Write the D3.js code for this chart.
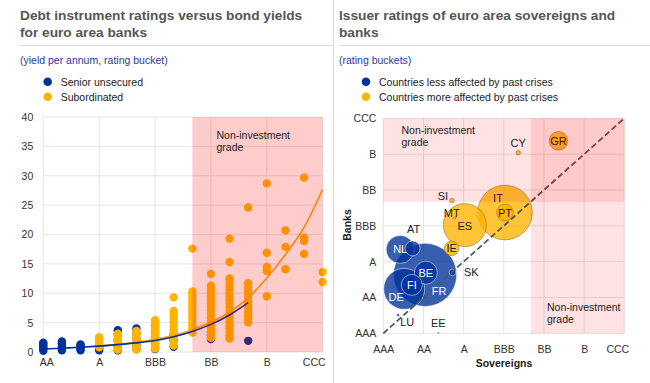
<!DOCTYPE html>
<html><head><meta charset="utf-8">
<script src="https://cdn.jsdelivr.net/npm/d3@7"></script>
<style>body{margin:0;background:#fff;}svg{display:block;font-family:"Liberation Sans",Arial,sans-serif}</style>
</head><body><svg id="c" width="650" height="383"></svg>
<script>
// ---------- LEFT CHART DATA ----------
const notches = ["AA","AA-","A+","A","A-","BBB+","BBB","BBB-","BB+","BB","BB-","B+","B","B-","CCC+","CCC"];
const leftTickLabels = ["AA","A","BBB","BB","B","CCC"];
const yieldTicks = [0,5,10,15,20,25,30,35,40];
const seniorRatings = ["AA","AA-","A+","A","A-","BBB+","BBB","BBB-","BB","B+"];
const seniorYields = [
  [0.2,0.5,0.8,1.1,1.4,1.6],
  [0.3,0.6,0.9,1.2,1.5,1.8],
  [0.3,0.5,0.8,1.1,1.3],
  [0.3,0.6,1.0],
  [0.3,1.0,2.0,3.0,3.7],
  [0.5,1.2,2.2,3.2,4.0],
  [0.5,1.5,2.5,3.5,4.4,4.7],
  [0.9,2.0,3.0],
  [2.2,2.8,3.4],
  [1.9]
];
const subRatings = ["A","A-","BBB+","BBB","BBB-","BB+","BB","BB-","B+","B","B-","CCC+","CCC"];
const subYields = [
  [0.8,1.2,1.6,2.0,2.5],
  [0.4,0.8,1.2,1.6,2.0,2.4,2.8,3.1],
  [0.4,0.8,1.2,1.6,2.0,2.4,2.8,3.2,3.6],
  [0.6,0.9,1.3,1.7,2.1,2.5,2.9,3.3,3.7,4.1,4.5,4.9,5.4],
  [1.1,1.6,2.1,2.6,3.1,3.6,4.1,4.6,5.1,5.6,6.1,6.6,7.0,9.3],
  [3.3,3.9,4.4,5.0,5.6,6.2,6.8,7.4,8.0,8.6,9.2,9.8,10.3,17.6],
  [2.4,2.9,3.5,4.1,4.7,5.3,5.9,6.5,7.1,7.7,8.3,8.9,9.5,10.1,10.7,11.3,13.3],
  [2.3,2.8,3.4,4.0,4.6,5.2,5.8,6.4,7.0,7.6,8.2,8.8,9.4,10.0,10.6,11.2,11.8,12.5,15.3,19.3],
  [5.0,5.6,6.2,6.8,7.4,8.0,8.6,9.2,9.8,10.4,11.0,11.7,24.6],
  [9.5,13.8,14.5,16.9,28.7],
  [14.1,17.9,20.7],
  [16.7,18.9,19.5,29.7],
  [11.9,13.6]
];
const seniorTrendRatings = ["AA","AA-","A+","A","A-","BBB+","BBB","BBB-","BB+","BB","BB-","B+"];
const seniorTrend = [0.5,0.65,0.8,1.0,1.25,1.55,1.95,2.6,3.5,4.7,6.3,8.4];
const subTrendRatings = ["A","A-","BBB+","BBB","BBB-","BB+","BB","BB-","B+","B","B-","CCC+","CCC"];
const subTrend = [1.0,1.3,1.65,2.15,2.85,3.8,5.1,6.8,9.2,12.6,16.6,21.2,27.7];
const nonInvestmentStart = "BB+";

// ---------- RIGHT CHART DATA ----------
const ratingLabels = ["AAA","AA","A","BBB","BB","B","CCC"];
const countries      = ["DE","FR","NL","BE","FI","AT","LU","EE","SK","IE","MT","SI","ES","IT","PT","CY","GR"];
const sovereignScore = [0.52,1.04,0.42,1.06,0.71,0.73,0.37,1.37,1.72,1.70,1.78,1.71,2.03,3.03,3.03,3.36,4.36];
const bankScore      = [1.24,1.63,2.34,1.69,1.35,2.37,0.51,0.01,1.70,2.37,3.22,3.70,3.02,3.37,3.37,5.04,5.37];
const bubbleSize     = [42,100,19.6,13.2,11,5.6,0.23,0.1,1.1,5.3,0.1,0.53,46.2,74.5,6.9,0.53,8.6];
const crisisGroup    = ["less","less","less","less","less","less","less","less","less","more","more","more","more","more","more","more","more"];
const nonInvestmentBoundary = 3.67;

// ---------- STYLE ----------
const BLUE = "#003299", YELLOW = "#FFB400";
const svg = d3.select("#c");

function title(x, lines){
  lines.forEach((t,i)=>svg.append("text").attr("x",x).attr("y",20+i*16.5)
    .attr("font-size",13.7).attr("font-weight","bold").attr("fill","#555").text(t));
}
title(20,["Debt instrument ratings versus bond yields","for euro area banks"]);
title(339,["Issuer ratings of euro area sovereigns and","banks"]);
svg.append("line").attr("x1",20).attr("x2",333).attr("y1",45.5).attr("y2",45.5).attr("stroke","#d9d9d9");
svg.append("line").attr("x1",339).attr("x2",650).attr("y1",45.5).attr("y2",45.5).attr("stroke","#d9d9d9");
svg.append("line").attr("x1",333.5).attr("x2",333.5).attr("y1",0).attr("y2",383).attr("stroke","#d9d9d9");
svg.append("text").attr("x",20).attr("y",63.5).attr("font-size",10.5).attr("fill","#1f3b99").text("(yield per annum, rating bucket)");
svg.append("text").attr("x",339).attr("y",63.5).attr("font-size",10.5).attr("fill","#1f3b99").text("(rating buckets)");
function legend(x, items){
  items.forEach((it,i)=>{
    svg.append("circle").attr("cx",x).attr("cy",81.7+i*15).attr("r",4.3).attr("fill",it[1]);
    svg.append("text").attr("x",x+13).attr("y",85.5+i*15).attr("font-size",10.5).attr("fill","#222").text(it[0]);
  });
}
legend(47.7,[["Senior unsecured",BLUE],["Subordinated",YELLOW]]);
legend(366,[["Countries less affected by past crises",BLUE],["Countries more affected by past crises",YELLOW]]);

// ---------- LEFT CHART ----------
const L = svg.append("g");
const xL = d3.scalePoint().domain(notches).range([43.3,322.7]);
const yL = d3.scaleLinear().domain([0,40]).range([352,117]);
L.selectAll(".hg").data(yieldTicks).join("line").attr("x1",43.3).attr("x2",322.7)
  .attr("y1",d=>yL(d)).attr("y2",d=>yL(d)).attr("stroke","#e6e6e6");
L.selectAll(".vg").data(leftTickLabels).join("line").attr("x1",d=>xL(d)).attr("x2",d=>xL(d))
  .attr("y1",yL(40)).attr("y2",yL(0)).attr("stroke","#e6e6e6");
const yAxL = L.append("g").attr("transform","translate(43.3,0)")
  .call(d3.axisLeft(yL).tickValues(yieldTicks).tickSize(0).tickPadding(10));
const xAxL = L.append("g").attr("transform","translate(0,352)")
  .call(d3.axisBottom(xL).tickValues(leftTickLabels).tickSize(0).tickPadding(7));
[yAxL,xAxL].forEach(a=>{a.select(".domain").remove();a.selectAll("text").attr("font-size",10.5).attr("fill","#333").attr("font-family","Liberation Sans, Arial");});
xAxL.selectAll("text").attr("dx",d=>d==="AA"?3:d==="CCC"?-9:0);
const seniorPts = seniorRatings.flatMap((r,i)=>seniorYields[i].map(v=>[r,v]));
const subPts = subRatings.flatMap((r,i)=>subYields[i].map(v=>[r,v]));
L.append("g").selectAll("circle").data(seniorPts).join("circle")
  .attr("cx",d=>xL(d[0])).attr("cy",d=>yL(d[1])).attr("r",4.2).attr("fill",BLUE);
L.append("g").selectAll("circle").data(subPts).join("circle")
  .attr("cx",d=>xL(d[0])).attr("cy",d=>yL(d[1])).attr("r",4.2).attr("fill",YELLOW);
const lineL = d3.line().x(d=>xL(d[0])).y(d=>yL(d[1])).curve(d3.curveMonotoneX);
L.append("path").attr("d",lineL(subTrendRatings.map((r,i)=>[r,subTrend[i]])))
  .attr("fill","none").attr("stroke","#FFA500").attr("stroke-width",1.6);
L.append("path").attr("d",lineL(seniorTrendRatings.map((r,i)=>[r,seniorTrend[i]])))
  .attr("fill","none").attr("stroke",BLUE).attr("stroke-width",1.6);
L.append("rect").attr("x",xL(nonInvestmentStart)).attr("y",yL(40))
  .attr("width",xL("CCC")-xL(nonInvestmentStart)).attr("height",yL(0)-yL(40))
  .attr("fill","#ff0000").attr("fill-opacity",0.2);
L.append("text").attr("x",216.5).attr("y",139).attr("font-size",10.5).attr("fill","#222").text("Non-investment");
L.append("text").attr("x",216.5).attr("y",151).attr("font-size",10.5).attr("fill","#222").text("grade");

// ---------- RIGHT CHART ----------
const R = svg.append("g");
const xR = d3.scaleLinear().domain([0,6]).range([383.3,624.3]);
const yR = d3.scaleLinear().domain([0,6]).range([333.3,118.3]);
const rR = d3.scaleSqrt().domain([0,100]).range([0,31.6]);
const idx = d3.range(ratingLabels.length);
R.selectAll(".vg").data(idx).join("line").attr("x1",d=>xR(d)).attr("x2",d=>xR(d))
  .attr("y1",yR(6)).attr("y2",yR(0)).attr("stroke","#e3e3e3");
R.selectAll(".hg").data(idx).join("line").attr("x1",xR(0)).attr("x2",xR(6))
  .attr("y1",d=>yR(d)).attr("y2",d=>yR(d)).attr("stroke","#e3e3e3");
const xAxR = R.append("g").attr("transform","translate(0,333.3)")
  .call(d3.axisBottom(xR).tickValues(idx).tickFormat(i=>ratingLabels[i]).tickSize(0).tickPadding(12));
const yAxR = R.append("g").attr("transform","translate(383.3,0)")
  .call(d3.axisLeft(yR).tickValues(idx).tickFormat(i=>ratingLabels[i]).tickSize(0).tickPadding(7));
[xAxR,yAxR].forEach(a=>{a.select(".domain").remove();a.selectAll("text").attr("font-size",10.5).attr("fill","#333").attr("font-family","Liberation Sans, Arial");});
xAxR.selectAll("text").attr("dx",i=>i===6?-7:0);
R.append("text").attr("x",504).attr("y",367).attr("text-anchor","middle").attr("font-size",10.5).attr("font-weight","bold").attr("fill","#222").text("Sovereigns");
R.append("text").attr("transform","translate(351,225) rotate(-90)").attr("text-anchor","middle").attr("font-size",10.5).attr("font-weight","bold").attr("fill","#222").text("Banks");

const bubbles = countries.map((c,i)=>({c,x:sovereignScore[i],y:bankScore[i],s:bubbleSize[i],g:crisisGroup[i]}))
  .sort((a,b)=>b.s-a.s);
R.append("g").selectAll("circle").data(bubbles).join("circle")
  .attr("cx",d=>xR(d.x)).attr("cy",d=>yR(d.y)).attr("r",d=>Math.max(1,rR(d.s)))
  .attr("fill",d=>d.g==="less"?BLUE:YELLOW).attr("fill-opacity",0.78)
  .attr("stroke",d=>d.g==="less"?"#ffffff":"#8a6a10").attr("stroke-opacity",d=>d.g==="less"?0.55:0.6).attr("stroke-width",0.9);
R.append("line").attr("x1",xR(0)).attr("y1",yR(0)).attr("x2",xR(6)).attr("y2",yR(6))
  .attr("stroke","#555").attr("stroke-width",1.8).attr("stroke-dasharray","6,3");
R.append("rect").attr("x",xR(0)).attr("y",yR(6)).attr("width",xR(6)-xR(0)).attr("height",yR(nonInvestmentBoundary)-yR(6))
  .attr("fill","#ff0000").attr("fill-opacity",0.11);
R.append("rect").attr("x",xR(nonInvestmentBoundary)).attr("y",yR(6)).attr("width",xR(6)-xR(nonInvestmentBoundary)).attr("height",yR(0)-yR(6))
  .attr("fill","#ff0000").attr("fill-opacity",0.11);
const labelStyle = {
  NL:[0,0,"#fff"],AT:[1,-19,"#222"],BE:[0,0,"#fff"],FI:[0,0,"#fff"],FR:[14,16,"#fff"],DE:[-8,8,"#fff"],
  LU:[9,7,"#222"],EE:[0,-10,"#222"],SK:[19,0,"#222"],IE:[0,0,"#222"],MT:[-3,-5,"#222"],SI:[-9,-5,"#222"],
  ES:[0,1,"#222"],IT:[-7,-15,"#222"],PT:[0,0,"#222"],CY:[0,-10,"#222"],GR:[0,0,"#222"]
};
R.append("g").selectAll("text").data(bubbles).join("text")
  .attr("x",d=>xR(d.x)+labelStyle[d.c][0]).attr("y",d=>yR(d.y)+labelStyle[d.c][1])
  .attr("dy","0.36em").attr("text-anchor","middle").attr("font-size",11)
  .attr("fill",d=>labelStyle[d.c][2]).text(d=>d.c);
R.append("text").attr("x",401.5).attr("y",134).attr("font-size",10.5).attr("fill","#222").text("Non-investment");
R.append("text").attr("x",401.5).attr("y",146).attr("font-size",10.5).attr("fill","#222").text("grade");
R.append("text").attr("x",547).attr("y",311).attr("font-size",10.5).attr("fill","#222").text("Non-investment");
R.append("text").attr("x",547).attr("y",323).attr("font-size",10.5).attr("fill","#222").text("grade");
</script></body></html>
